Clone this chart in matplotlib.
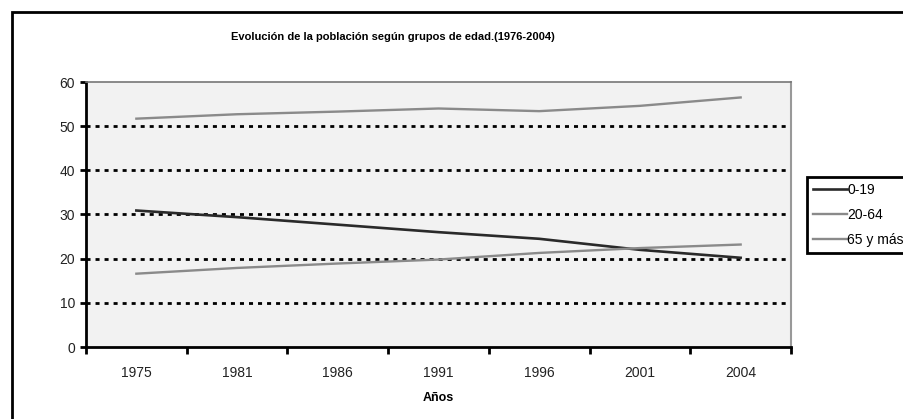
import numpy as np
import matplotlib
matplotlib.use("Agg")
import matplotlib.pyplot as plt
from matplotlib.patches import Rectangle

plt.rcParams['font.family'] = ['Liberation Sans', 'DejaVu Sans']

# datos
anios = ['1975', '1981', '1986', '1991', '1996', '2001', '2004']
g0_19 = [30.9, 29.4, 27.7, 26.0, 24.5, 22.0, 20.2]
g20_64 = [51.7, 52.7, 53.3, 54.0, 53.4, 54.6, 56.5]
g65 = [16.6, 17.9, 18.9, 19.8, 21.3, 22.4, 23.2]
series = ['0-19', '20-64', '65 y más']

W, H = 904, 419
fig = plt.figure(figsize=(W / 100, H / 100), dpi=100)

# marco exterior
fig.patches.append(Rectangle((12 / W, -0.1), 1.2, (H - 12) / H + 0.1,
                             transform=fig.transFigure, fill=False,
                             edgecolor='black', linewidth=2))

ax = fig.add_axes([86 / W, (H - 347) / H, (791 - 86) / W, (347 - 82) / H])
ax.set_facecolor('#f2f2f2')

x = np.arange(len(anios))
l1, = ax.plot(x, g0_19, color='#2a2a2a', lw=1.9)
l2, = ax.plot(x, g20_64, color='#8a8a8a', lw=1.7)
l3, = ax.plot(x, g65, color='#8a8a8a', lw=1.7)

ax.set_xlim(-0.5, len(anios) - 0.5)
ax.set_ylim(0, 60)
ax.set_yticks(range(0, 61, 10))
ax.set_xticks(x)
ax.set_xticklabels(anios)
ax.set_xticks(np.arange(-0.5, len(anios), 1.0), minor=True)
ax.tick_params(axis='x', which='major', length=0, pad=14, labelsize=10, colors='#222222')
ax.tick_params(axis='x', which='minor', length=5, width=2, color='black')
ax.tick_params(axis='y', length=4, width=2, pad=4, labelsize=10, colors='#222222')
ax.tick_params(axis='y', color='black')

for yv in range(10, 60, 10):
    ax.axhline(yv, color='black', lw=2.0, linestyle=(0, (1.45, 1.8)), zorder=1)

ax.spines['left'].set_linewidth(2)
ax.spines['bottom'].set_linewidth(2)
ax.spines['top'].set_color('#777777')
ax.spines['top'].set_linewidth(1.2)
ax.spines['right'].set_color('#999999')
ax.spines['right'].set_linewidth(1.5)

ax.set_xlabel('Años', fontsize=9, fontweight='bold', labelpad=8)
fig.text(393 / W, (H - 37) / H, 'Evolución de la población según grupos de edad.(1976-2004)',
         ha='center', va='center', fontsize=8, fontweight='bold')

leg = fig.legend([l1, l2, l3], series, loc='upper left',
                 bbox_to_anchor=(807 / W, (H - 177) / H), fontsize=10,
                 handlelength=2.5, handletextpad=0.0, labelspacing=0.82,
                 borderpad=0.4, borderaxespad=0, fancybox=False, framealpha=1)
leg.get_frame().set_edgecolor('black')
leg.get_frame().set_linewidth(2)

fig.savefig('out.png', dpi=100)
